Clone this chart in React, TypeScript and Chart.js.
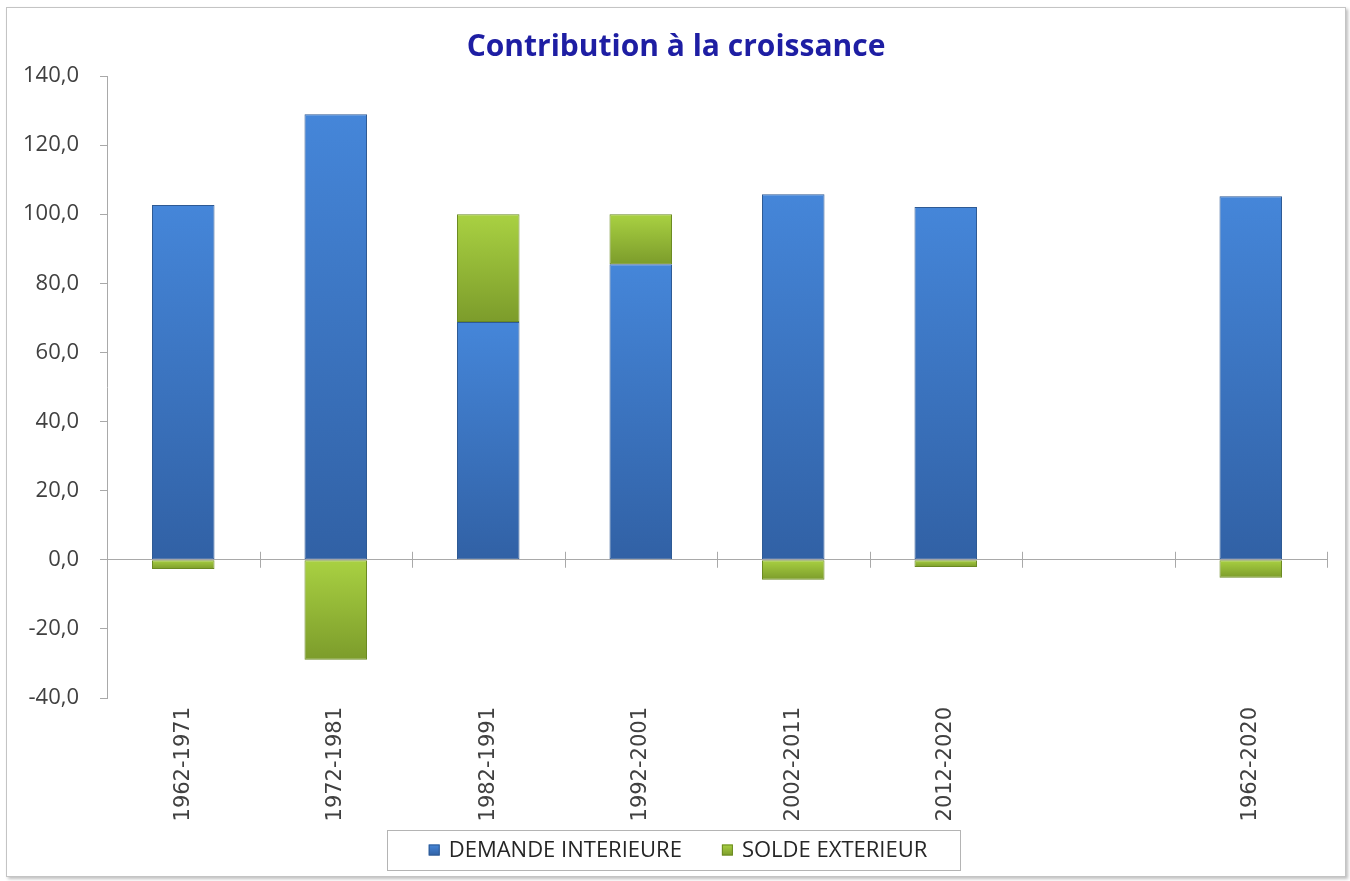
import React, { useEffect, useRef } from "react";
import { Chart, registerables } from "chart.js";

Chart.register(...registerables);

const title = "Contribution à la croissance";
const categories = ["1962-1971", "1972-1981", "1982-1991", "1992-2001", "2002-2011", "2012-2020", "", "1962-2020"];
const demandeInterieure: (number | null)[] = [102.7, 128.9, 68.8, 85.5, 105.8, 102.1, null, 105.2];
const soldeExterieur: (number | null)[] = [-2.7, -28.9, 31.2, 14.5, -5.8, -2.1, null, -5.2];
const seriesNames = ["DEMANDE INTERIEURE", "SOLDE EXTERIEUR"];
const yMin = -40;
const yMax = 140;
const yStep = 20;

const BLUE_TOP = "#4586D9";
const BLUE_BOTTOM = "#3161A5";
const GREEN_TOP = "#A9D142";
const GREEN_BOTTOM = "#7C9C2B";
const LEGEND_FONT = "22px 'Open Sans', sans-serif";

function barGradient(ctx: any, startVal: number, endVal: number, top: string, bottom: string, fallback: string) {
  const chart = ctx.chart;
  const y = chart.scales && chart.scales.y;
  if (!chart.chartArea || !y) return fallback;
  const p1 = y.getPixelForValue(Math.max(startVal, endVal));
  const p2 = y.getPixelForValue(Math.min(startVal, endVal));
  if (!isFinite(p1) || !isFinite(p2) || Math.abs(p2 - p1) < 1) return fallback;
  const g = chart.ctx.createLinearGradient(0, p1, 0, p2);
  g.addColorStop(0, top);
  g.addColorStop(1, bottom);
  return g;
}

const crossTicksPlugin = {
  id: "crossTicks",
  beforeDatasetsDraw(chart: any) {
    const x = chart.scales.x;
    const y = chart.scales.y;
    const y0 = y.getPixelForValue(0);
    const n = chart.data.labels.length;
    const w = (x.right - x.left) / n;
    const c = chart.ctx;
    c.save();
    c.strokeStyle = "#a9a9a9";
    c.lineWidth = 1;
    c.beginPath();
    for (let i = 1; i <= n; i++) {
      const px = Math.round(x.left + i * w) + 0.5;
      c.moveTo(px, y0 - 8);
      c.lineTo(px, y0 + 8);
    }
    c.stroke();
    c.restore();
  },
};

// Boxed legend under the axis labels (Excel style)
const boxedLegendPlugin = {
  id: "boxedLegend",
  afterDraw(chart: any) {
    const c = chart.ctx;
    const datasets = chart.data.datasets;
    const sq = 11;
    const gapText = 9;
    const gapItem = 40;
    c.save();
    c.font = LEGEND_FONT;
    const widths = datasets.map((d: any) => sq + gapText + c.measureText(d.label).width);
    const total = widths.reduce((a: number, b: number) => a + b, 0) + gapItem * (datasets.length - 1);
    const cx = chart.width / 2 + 2;
    const cy = 842;
    let x = cx - total / 2;
    const boxL = Math.round(x - 42) + 0.5;
    const boxR = Math.round(x + total + 33) + 0.5;
    c.strokeStyle = "#b4b4b4";
    c.lineWidth = 1;
    c.strokeRect(boxL, Math.round(cy - 20) + 0.5, boxR - boxL, 40);
    const fills = [[BLUE_TOP, BLUE_BOTTOM, "#2E5A94"], [GREEN_TOP, GREEN_BOTTOM, "#6B8A22"]];
    datasets.forEach((d: any, i: number) => {
      const f = fills[i % fills.length];
      const g = c.createLinearGradient(0, cy - sq / 2, 0, cy + sq / 2);
      g.addColorStop(0, f[0]);
      g.addColorStop(1, f[1]);
      c.fillStyle = g;
      c.fillRect(x, cy - sq / 2, sq, sq);
      c.strokeStyle = f[2];
      c.strokeRect(x + 0.5, cy - sq / 2 + 0.5, sq - 1, sq - 1);
      c.fillStyle = "#262626";
      c.textBaseline = "middle";
      c.textAlign = "left";
      c.fillText(d.label, x + sq + gapText, cy + 1);
      x += widths[i] + gapItem;
    });
    c.restore();
  },
};

export default function App() {
  const ref = useRef<HTMLCanvasElement | null>(null);

  useEffect(() => {
    if (!ref.current) return;
    const chart = new Chart(ref.current, {
      type: "bar",
      data: {
        labels: categories,
        datasets: [
          {
            label: seriesNames[0],
            data: demandeInterieure,
            backgroundColor: (ctx: any) => {
              const v = demandeInterieure[ctx.dataIndex];
              if (v == null) return BLUE_TOP;
              return barGradient(ctx, 0, v, BLUE_TOP, BLUE_BOTTOM, "#3B74C2");
            },
            borderColor: "#2E5A94",
            borderWidth: 1,
            borderSkipped: false,
            categoryPercentage: 1,
            barPercentage: 0.41,
          },
          {
            label: seriesNames[1],
            data: soldeExterieur,
            backgroundColor: (ctx: any) => {
              const v = soldeExterieur[ctx.dataIndex];
              if (v == null) return GREEN_TOP;
              const d = demandeInterieure[ctx.dataIndex] ?? 0;
              const base = v >= 0 ? Math.max(0, d) : Math.min(0, d);
              return barGradient(ctx, base, base + v, GREEN_TOP, GREEN_BOTTOM, "#93B836");
            },
            borderColor: "#6B8A22",
            borderWidth: 1,
            borderSkipped: false,
            categoryPercentage: 1,
            barPercentage: 0.41,
          },
        ],
      },
      options: {
        animation: false,
        responsive: true,
        maintainAspectRatio: false,
        layout: { padding: { left: 18, right: 18, top: 0, bottom: 48 } },
        plugins: {
          title: {
            display: true,
            text: title,
            color: "#1E1EA3",
            font: { family: "'Open Sans', sans-serif", size: 30, weight: "bold" },
            padding: { top: 21, bottom: 11 },
          },
          legend: { display: false },
          tooltip: { enabled: false },
        },
        scales: {
          x: {
            stacked: true,
            grid: { display: false, drawTicks: false },
            border: { display: false },
            ticks: {
              color: "#404040",
              font: { family: "'DejaVu Sans', Verdana, sans-serif", size: 21 },
              minRotation: 90,
              maxRotation: 90,
              autoSkip: false,
              padding: 9,
            },
            afterFit: (scale: any) => {
              scale.height = 130;
            },
          },
          y: {
            stacked: true,
            min: yMin,
            max: yMax,
            border: { display: true, color: "#a9a9a9", width: 1 },
            grid: {
              drawOnChartArea: true,
              color: (ctx: any) => (ctx.tick && ctx.tick.value === 0 ? "#a9a9a9" : "rgba(0,0,0,0)"),
              tickColor: "#a9a9a9",
              tickLength: 7,
              drawTicks: true,
            },
            ticks: {
              stepSize: yStep,
              color: "#404040",
              font: { family: "'Open Sans', sans-serif", size: 22 },
              padding: 21,
              callback: (v: any) => Number(v).toFixed(1).replace(".", ","),
            },
            afterFit: (scale: any) => {
              scale.width = 82;
            },
          },
        },
      },
      plugins: [crossTicksPlugin, boxedLegendPlugin],
    });
    return () => chart.destroy();
  }, []);

  return (
    <div
      style={{
        position: "absolute",
        left: 6,
        top: 7,
        width: 1340,
        height: 870,
        boxSizing: "border-box",
        border: "1px solid #c4c4c4",
        boxShadow: "2px 2px 3px rgba(0,0,0,0.25)",
        background: "#ffffff",
      }}
    >
      <canvas ref={ref} style={{ display: "block", width: "100%", height: "100%" }} />
    </div>
  );
}
